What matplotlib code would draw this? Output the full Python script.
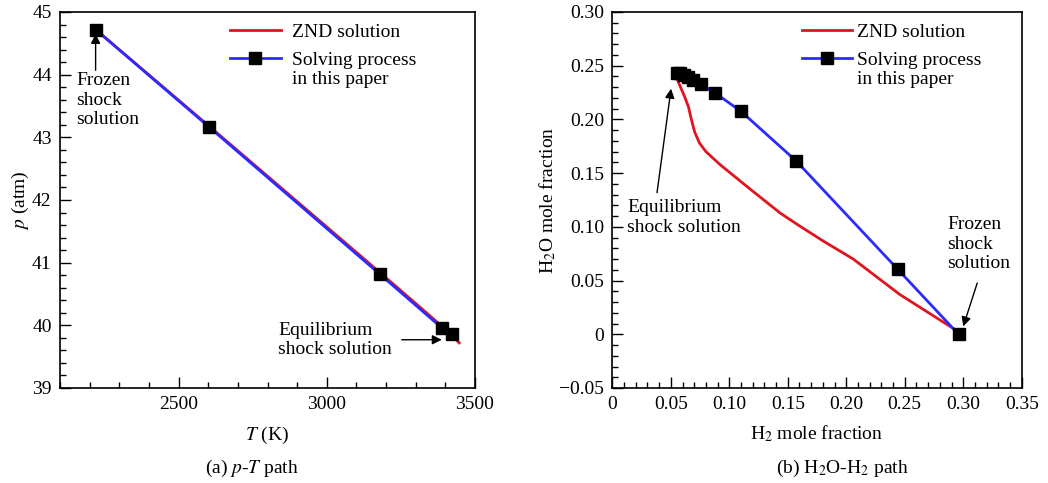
import matplotlib
matplotlib.use("Agg")
import matplotlib.pyplot as plt
from matplotlib.ticker import MultipleLocator, FuncFormatter

plt.rcParams["font.family"] = ["Liberation Serif", "DejaVu Serif"]
plt.rcParams["mathtext.fontset"] = "stix"
plt.rcParams["font.size"] = 14

# (a) p-T path
znd_T = [2220, 2605, 3180, 3390, 3447]
znd_p = [44.72, 43.17, 40.84, 39.98, 39.72]
proc_T = [2220, 2604, 3178, 3388, 3424]
proc_p = [44.72, 43.16, 40.82, 39.96, 39.86]

# (b) H2O-H2 path
znd_h2 = [0.054, 0.0575, 0.0615, 0.065, 0.068, 0.0705, 0.0745, 0.080, 0.092,
          0.1149, 0.1434, 0.1604, 0.180, 0.206, 0.2458, 0.2965]
znd_h2o = [0.241, 0.232, 0.222, 0.212, 0.198, 0.188, 0.178, 0.170, 0.158,
           0.1377, 0.1129, 0.1006, 0.087, 0.070, 0.037, 0.002]
proc_h2 = [0.055, 0.058, 0.061, 0.065, 0.069, 0.076, 0.088, 0.110, 0.157, 0.244, 0.296]
proc_h2o = [0.2435, 0.2430, 0.2415, 0.2395, 0.2370, 0.2325, 0.2245, 0.2075, 0.1615, 0.0605, 0.0]

RED = "#e0141e"
BLUE = "#2b2bff"

fig = plt.figure(figsize=(10.48, 4.83), dpi=100)
ax1 = fig.add_axes([0.0573, 0.1967, 0.3959, 0.7785])
ax2 = fig.add_axes([0.5843, 0.1967, 0.3906, 0.7785])


def style(ax):
    for s in ax.spines.values():
        s.set_linewidth(1.2)
    ax.tick_params(which="both", direction="in", top=False, right=False, width=1.0)
    ax.tick_params(which="major", length=8, pad=6, labelsize=14)
    ax.tick_params(which="minor", length=4.5)


arrow = dict(arrowstyle="-|>", color="black", lw=1.0, mutation_scale=14, shrinkA=0, shrinkB=0)

# ---- left panel ----
ax1.plot(znd_T, znd_p, color=RED, lw=2.0, label="ZND solution")
ax1.plot(proc_T, proc_p, color=BLUE, lw=2.0, marker="s", ms=8.5, mfc="black",
         mec="black", label="Solving process")
ax1.set_xlim(2100, 3500)
ax1.set_ylim(39, 45)
ax1.xaxis.set_major_locator(MultipleLocator(500))
ax1.xaxis.set_minor_locator(MultipleLocator(100))
ax1.yaxis.set_major_locator(MultipleLocator(1))
ax1.yaxis.set_minor_locator(MultipleLocator(0.2))
style(ax1)
ax1.set_xlabel("$T$ (K)", fontsize=14, labelpad=8)
ax1.set_ylabel("$p$ (atm)", fontsize=14, labelpad=1)

leg1 = ax1.legend(loc="upper left", bbox_to_anchor=(0.41, 0.97), frameon=False,
                  borderpad=0, borderaxespad=0, handlelength=2.6, handletextpad=0.6,
                  labelspacing=0.55, fontsize=14)
ax1.annotate("in this paper", xy=(0, 0), xycoords=leg1.get_texts()[1],
             xytext=(0, -1), textcoords="offset points", va="top", ha="left",
             fontsize=14, zorder=10)

ax1.text(2154, 44.04, "Frozen\nshock\nsolution", va="top", ha="left", fontsize=14, linespacing=1.2)
ax1.annotate("", xy=(2220, 44.65), xytext=(2220, 44.07), arrowprops=arrow)
ax1.text(2837, 40.06, "Equilibrium\nshock solution", va="top", ha="left", fontsize=14, linespacing=1.2)
ax1.annotate("", xy=(3388, 39.77), xytext=(3253, 39.77), arrowprops=arrow)

# ---- right panel ----
ax2.plot(znd_h2, znd_h2o, color=RED, lw=2.0, label="ZND solution")
ax2.plot(proc_h2, proc_h2o, color=BLUE, lw=2.0, marker="s", ms=8.5, mfc="black",
         mec="black", label="Solving process")
ax2.set_xlim(0, 0.35)
ax2.set_ylim(-0.05, 0.30)
ax2.xaxis.set_major_locator(MultipleLocator(0.05))
ax2.xaxis.set_minor_locator(MultipleLocator(0.01))
ax2.yaxis.set_major_locator(MultipleLocator(0.05))
ax2.yaxis.set_minor_locator(MultipleLocator(0.01))


def frac_fmt(v, _):
    if abs(v) < 1e-9:
        return "0"
    return f"{v:.2f}".replace("-", "\u2212")


ax2.xaxis.set_major_formatter(FuncFormatter(frac_fmt))
ax2.yaxis.set_major_formatter(FuncFormatter(frac_fmt))
style(ax2)
ax2.set_xlabel("H$_2$ mole fraction", fontsize=14, labelpad=7)
ax2.set_ylabel("H$_2$O mole fraction", fontsize=14, labelpad=1)

leg2 = ax2.legend(loc="upper left", bbox_to_anchor=(0.463, 0.97), frameon=False,
                  borderpad=0, borderaxespad=0, handlelength=2.6, handletextpad=0.26,
                  labelspacing=0.55, fontsize=14)
ax2.annotate("in this paper", xy=(0, 0), xycoords=leg2.get_texts()[1],
             xytext=(0, -1), textcoords="offset points", va="top", ha="left",
             fontsize=14, zorder=10)

ax2.text(0.0126, 0.126, "Equilibrium\nshock solution", va="top", ha="left", fontsize=14, linespacing=1.2)
ax2.annotate("", xy=(0.0502, 0.2286), xytext=(0.0382, 0.1318), arrowprops=arrow)
ax2.text(0.2862, 0.110, "Frozen\nshock\nsolution", va="top", ha="left", fontsize=14, linespacing=1.2)
ax2.annotate("", xy=(0.300, 0.0073), xytext=(0.312, 0.0477), arrowprops=arrow)

fig.text(0.2405, 1 - 468 / 483, "(a) $p$-$T$ path", ha="center", va="center", fontsize=14)
fig.text(0.804, 1 - 468 / 483, "(b) H$_2$O-H$_2$ path", ha="center", va="center", fontsize=14)

fig.savefig("out.png", dpi=100)
